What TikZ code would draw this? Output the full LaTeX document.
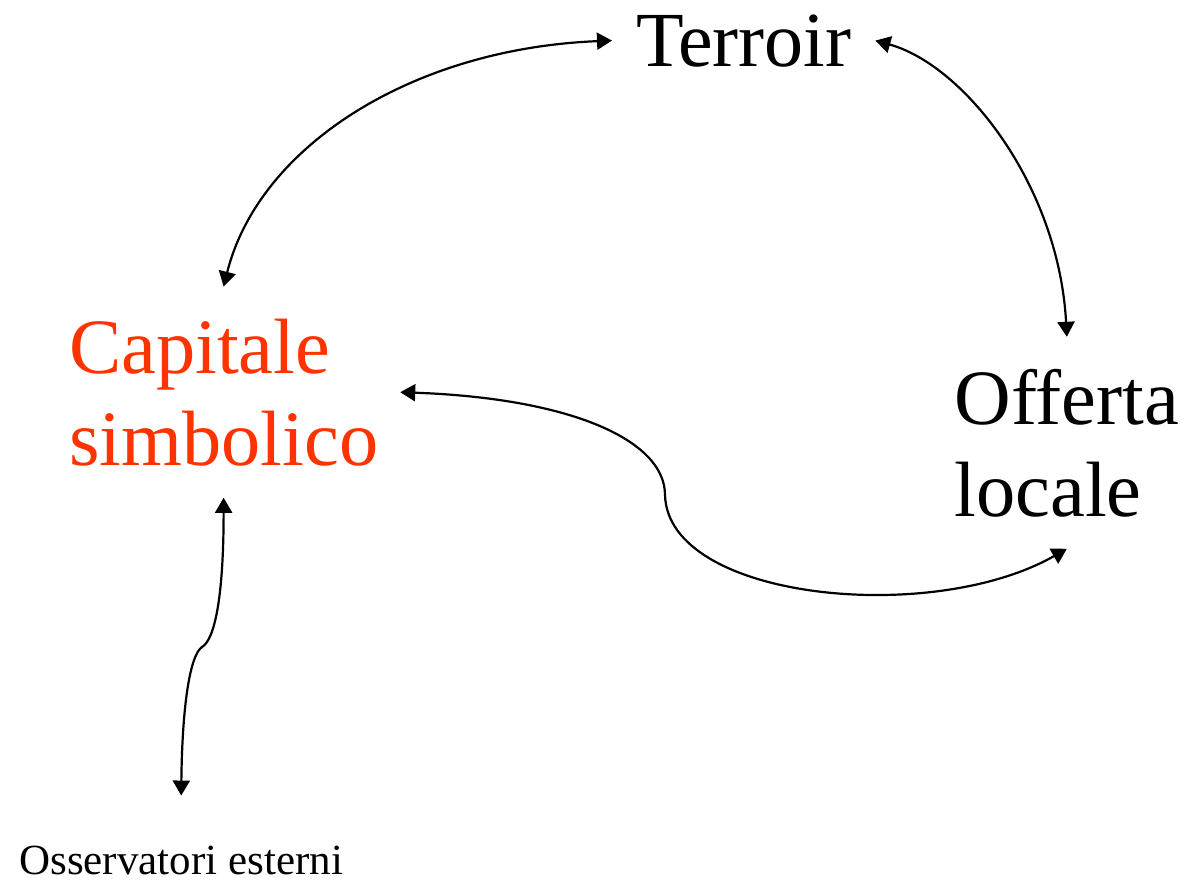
\documentclass[tikz,border=0pt]{standalone}
\usepackage{fontspec}
\setmainfont{Liberation Serif}
\usetikzlibrary{arrows.meta}
\definecolor{simbred}{HTML}{FF3300}
\begin{document}
\begin{tikzpicture}[x=0.5pt,y=-0.5pt,
        lab/.style={inner sep=0pt,font=\fontsize{39.2}{46}\selectfont,align=left},
        link/.style={line width=1.1pt,{Triangle[length=7.5pt,width=8.5pt]}-{Triangle[length=7.5pt,width=8.5pt]}}]
        \useasboundingbox (0,0) rectangle (1184,880);
        %% the four nodes
        \node[lab,font=\fontsize{39}{46}\selectfont,anchor=base west,outer xsep=12pt] (terroir) at (612,66) {Terroir};
        \node[lab,text=simbred,anchor=base west,outer xsep=11pt,outer ysep=16pt] (capitale) at (47,465) {Capitale\\simbolico};
        \node[lab,anchor=base west,outer ysep=16pt] (offerta) at (954,516) {Offerta\\locale};
        \node[lab,font=\fontsize{21.5}{25}\selectfont,anchor=base west,outer ysep=25pt] (osservatori) at (19,874) {Osservatori esterni};
        %% links between them
        \draw[link] (capitale.north) .. controls +(35,-140) and +(-200,8) .. (terroir.west);
        \draw[link] (terroir.east) .. controls +(90,25) and +(-8,-150) .. (offerta.north);
        \draw[link] (capitale.east) .. controls +(170,6) and +(0,-55) .. (665,495)
            .. controls +(3,105) and +(-135,77) .. (offerta.south);
        \draw[link] (capitale.south) .. controls +(0,103) and +(12,-7) .. (202,647)
            .. controls +(-12,8) and +(1,-90) .. (osservatori.north);
\end{tikzpicture}
\end{document}
